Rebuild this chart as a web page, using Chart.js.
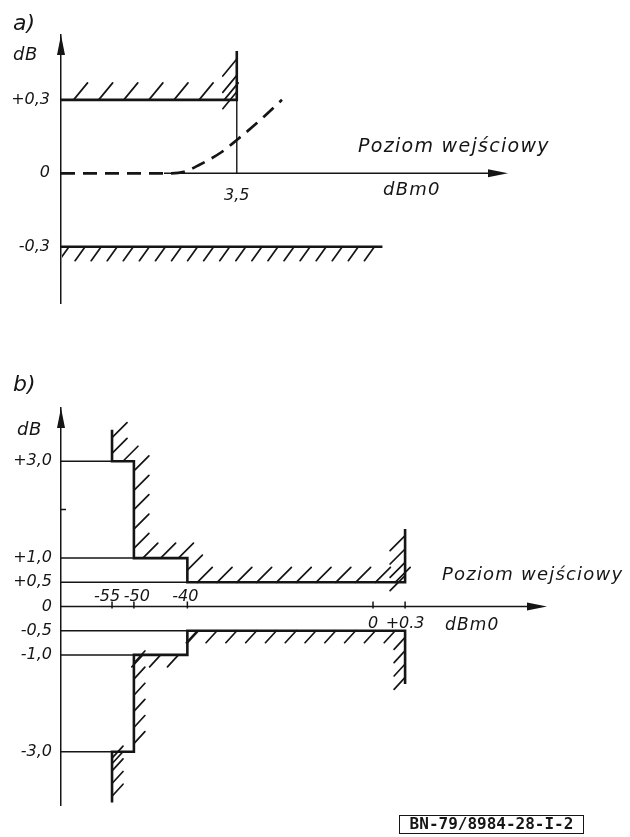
<!DOCTYPE html>
<html>
<head>
<meta charset="utf-8">
<script src="https://cdn.jsdelivr.net/npm/chart.js@4.4.1/dist/chart.umd.min.js"></script>
<style>
  html, body { margin: 0; padding: 0; background: #fff; }
  #wrap { position: relative; width: 630px; height: 837px; overflow: hidden; }
  canvas { position: absolute; left: 0; top: 0; }
  #stamp {
    position: absolute; left: 399px; top: 815px; width: 185px; height: 19px;
    box-sizing: border-box; border: 1.5px solid #151515; color: #151515;
    font: bold 16px/16px 'DejaVu Sans Mono', monospace; text-align: center; white-space: nowrap;
  }
</style>
</head>
<body>
<div id="wrap">
  <canvas id="chartA" width="630" height="837"></canvas>
  <canvas id="chartB" width="630" height="837"></canvas>
  <div id="stamp">BN-79/8984-28-I-2</div>
</div>
<script>
// ── Data: a) ─────────────────────────────────────────────
const upperMaskAx = [0, 3.5, 3.5];
const upperMaskAy = [0.3, 0.3, 0.5];
const upperGuideAx = [3.5, 3.5];
const upperGuideAy = [0, 0.3];
const lowerMaskAx = [0, 6.4];
const lowerMaskAy = [-0.3, -0.3];
const curveAx = [0, 2.2, 2.45, 2.75, 3.2, 3.5, 3.9, 4.4];
const curveAy = [0, 0, 0.006, 0.034, 0.087, 0.136, 0.205, 0.3];
const yTicksA = [-0.3, 0, 0.3];
const yLabelsA = ['-0,3', '0', '+0,3'];
const xTicksA = [3.5];
const xLabelsA = ['3,5'];

// ── Data: b) ─────────────────────────────────────────────
const upperMaskBx = [-55, -55, -50, -50, -40, -40, 0.3, 0.3];
const upperMaskBy = [3.65, 3, 3, 1, 1, 0.5, 0.5, 1.6];
const lowerMaskBx = [-55, -55, -50, -50, -40, -40, 0.3, 0.3];
const lowerMaskBy = [-4.05, -3, -3, -1, -1, -0.5, -0.5, -1.6];
const guideLevelsB = [3, 1, 0.5, -0.5, -1, -3];
const guideEndsB = [-55, -50, -40, -40, -50, -55];
const yTicksB = [-3, -1, -0.5, 0, 0.5, 1, 2, 3];
const yLabelsB = ['-3,0', '-1,0', '-0,5', '0', '+0,5', '+1,0', '', '+3,0'];
const xTicksB = [-55, -50, -40, 0, 0.3];
const xLabelsB = ['-55', '-50', '-40', '0', '+0.3'];

const INK = '#151515';
const FONT = "'DejaVu Sans', sans-serif";

function pts(xs, ys) {
  return xs.map((x, i) => ({ x: x, y: ys[i] }));
}

// the b) drawing is not to scale: a linear scale bent at a few knots
class PiecewiseScale extends Chart.LinearScale {
  static id = 'piecewise';
  static defaults = {};
  toDecimal(v) {
    const k = this.options.knots;
    if (v <= k[0][0]) return k[0][1];
    for (let i = 1; i < k.length; i++) {
      if (v <= k[i][0]) {
        const v0 = k[i - 1][0], d0 = k[i - 1][1], v1 = k[i][0], d1 = k[i][1];
        return d0 + (v - v0) / (v1 - v0) * (d1 - d0);
      }
    }
    return k[k.length - 1][1];
  }
  getPixelForValue(value) {
    if (value === null || value === undefined || isNaN(value)) return NaN;
    return this.getPixelForDecimal(this.toDecimal(value));
  }
}
Chart.register(PiecewiseScale);

// ── Plugins ──────────────────────────────────────────────

const hatchPlugin = {
  id: 'hatch',
  afterDatasetsDraw(chart) {
    const ctx = chart.ctx;
    const ca = chart.chartArea;
    chart.data.datasets.forEach((ds, di) => {
      const h = ds.hatch;
      if (!h) return;
      const p = chart.getDatasetMeta(di).data;
      ctx.save();
      ctx.beginPath();
      ctx.rect(ca.left + 1, 0, chart.width, chart.height);
      ctx.clip();
      ctx.strokeStyle = INK;
      ctx.lineWidth = h.width || 1.7;
      ctx.lineCap = 'round';
      for (let i = 0; i < p.length - 1; i++) {
        const dir = h.dirs[i];
        if (!dir) continue;
        const a = p[i], b = p[i + 1];
        const len = Math.hypot(b.x - a.x, b.y - a.y);
        const gap = Array.isArray(h.gap) ? h.gap[i] : h.gap;
        const n = Math.max(1, Math.round(len / gap));
        const sx = dir === 'ur' ? h.dx : -h.dx;
        const sy = dir === 'ur' ? -h.dy : h.dy;
        ctx.beginPath();
        for (let k = 0; k < n; k++) {
          const t = (k + 0.5) / n;
          const px = a.x + (b.x - a.x) * t;
          const py = a.y + (b.y - a.y) * t;
          ctx.moveTo(px, py);
          ctx.lineTo(px + sx, py + sy);
        }
        ctx.stroke();
      }
      ctx.restore();
    });
  }
};

function arrow(ctx, x, y, dir) {
  const L = 20, W = 4;
  ctx.beginPath();
  if (dir === 'up') {
    ctx.moveTo(x, y);
    ctx.lineTo(x - W, y + L);
    ctx.lineTo(x + W, y + L);
  } else {
    ctx.moveTo(x, y);
    ctx.lineTo(x - L, y - W);
    ctx.lineTo(x - L, y + W);
  }
  ctx.closePath();
  ctx.fill();
}

function makeAxes(cfg) {
  return {
    id: 'sketchAxes',
    afterDraw(chart) {
      const { ctx, chartArea: ca, scales } = chart;
      const x = scales.x, y = scales.y;
      const y0 = y.getPixelForValue(0);
      const xStart = cfg.xFrom !== undefined ? x.getPixelForValue(cfg.xFrom) : ca.left;
      ctx.save();
      ctx.strokeStyle = INK;
      ctx.fillStyle = INK;
      ctx.lineWidth = 1.5;
      ctx.beginPath();
      ctx.moveTo(xStart, y0);
      ctx.lineTo(ca.right - 12, y0);
      ctx.stroke();
      arrow(ctx, ca.right, y0, 'right');
      arrow(ctx, ca.left, ca.top, 'up');

      // x ticks
      ctx.font = 'italic 16px ' + FONT;
      ctx.textAlign = 'center';
      cfg.xTicks.forEach((v, i) => {
        const px = x.getPixelForValue(v);
        if (cfg.tickUp) {
          ctx.beginPath();
          ctx.moveTo(px, y0 - cfg.tickUp);
          ctx.lineTo(px, y0 + cfg.tickDown);
          ctx.stroke();
        }
        const above = v < 0;
        const shift = (cfg.labelShift && cfg.labelShift[i]) || 0;
        ctx.fillText(cfg.xLabels[i], px + shift, above ? y0 - cfg.aboveGap : y0 + cfg.belowGap);
      });

      // lettering
      ctx.textAlign = 'left';
      cfg.texts.forEach(t => {
        ctx.font = 'italic ' + t.size + 'px ' + FONT;
        ctx.letterSpacing = (t.ls || 0) + 'px';
        ctx.fillText(t.text, t.x, t.y);
      });
      ctx.restore();
    }
  };
}

function line(data, width, extra) {
  return Object.assign({
    data: data,
    borderColor: INK,
    borderWidth: width,
    pointRadius: 0,
    fill: false,
    tension: 0,
    borderCapStyle: 'butt',
    borderJoinStyle: 'miter'
  }, extra || {});
}

function yAxis(min, max, ticks, labels, extra) {
  return Object.assign({
    type: 'linear',
    min: min,
    max: max,
    afterFit: s => { s.width = 61; },
    afterBuildTicks: s => { s.ticks = ticks.map(v => ({ value: v })); },
    ticks: {
      autoSkip: false,
      color: INK,
      font: { family: FONT, style: 'italic', size: 16 },
      callback: (v, i) => labels[i]
    },
    grid: { display: false },
    border: { display: true, color: INK, width: 1.5 }
  }, extra);
}

const basePlugins = {
  legend: { display: false },
  tooltip: { enabled: false },
  colors: { enabled: false }
};

// ── Chart a) ─────────────────────────────────────────────

new Chart(document.getElementById('chartA'), {
  type: 'line',
  data: {
    datasets: [
      line(pts(upperMaskAx, upperMaskAy), 2.6,
        { hatch: { dirs: ['ur', 'dl'], gap: [24, 16], dx: 14, dy: 17 } }),
      line(pts(upperGuideAx, upperGuideAy), 1.4),
      line(pts(lowerMaskAx, lowerMaskAy), 2.6,
        { hatch: { dirs: ['dl'], gap: 16, dx: 10, dy: 14 } }),
      line(pts(curveAx, curveAy), 2.7,
        { borderDash: [14, 8], cubicInterpolationMode: 'monotone' })
    ]
  },
  options: {
    responsive: false,
    animation: false,
    events: [],
    layout: { padding: { left: 0, right: 122, top: 35, bottom: 534 } },
    plugins: basePlugins,
    scales: {
      x: { type: 'linear', min: 0, max: 8.9, display: false },
      y: yAxis(-0.53, 0.565, yTicksA, yLabelsA, {})
    }
  },
  plugins: [hatchPlugin, makeAxes({
    xFrom: 2.05,
    xTicks: xTicksA, xLabels: xLabelsA,
    belowGap: 27, aboveGap: 6,
    texts: [
      { text: 'a)', x: 13, y: 30, size: 22 },
      { text: 'dB', x: 13, y: 60, size: 18, ls: 0.5 },
      { text: 'Poziom wejściowy', x: 358, y: 152, size: 19, ls: 1.3 },
      { text: 'dBm0', x: 383, y: 195, size: 18, ls: 1.2 }
    ]
  })]
});

// ── Chart b) ─────────────────────────────────────────────

const guideSets = guideLevelsB.map((lvl, i) => line(pts([-70, guideEndsB[i]], [lvl, lvl]), 1.5));

new Chart(document.getElementById('chartB'), {
  type: 'line',
  data: {
    datasets: guideSets.concat([
      line(pts(upperMaskBx, upperMaskBy), 2.6, {
        hatch: { dirs: ['ur', 'ur', 'ur', 'ur', 'ur', 'ur', 'dl'],
                 gap: [19, 19, 19, 19, 19, 20, 15], dx: 15, dy: 15 } }),
      line(pts(lowerMaskBx, lowerMaskBy), 2.6, {
        hatch: { dirs: ['ur', 'dl', 'ur', 'dl', 'ur', 'dl', 'dl'],
                 gap: [14, 19, 17, 19, 19, 19, 14], dx: 11, dy: 12 } })
    ])
  },
  options: {
    responsive: false,
    animation: false,
    events: [],
    layout: { padding: { left: 0, right: 83, top: 408, bottom: 32 } },
    plugins: basePlugins,
    scales: {
      x: {
        type: 'piecewise', min: -70, max: 3, display: false,
        knots: [[-70, 0], [-55, 0.105], [-50, 0.150], [-40, 0.260], [0, 0.642], [0.3, 0.708], [3, 1]]
      },
      y: yAxis(-4.1, 4.1, yTicksB, yLabelsB, {
        grid: {
          display: true, drawOnChartArea: false, drawTicks: true, tickLength: -5,
          tickWidth: 1.5,
          tickColor: c => (c.tick && c.tick.value === 2 ? INK : 'rgba(0,0,0,0)')
        },
        ticks: {
          autoSkip: false, color: INK, padding: 14,
          font: { family: FONT, style: 'italic', size: 16 },
          callback: (v, i) => yLabelsB[i]
        }
      })
    }
  },
  plugins: [hatchPlugin, makeAxes({
    xTicks: xTicksB, xLabels: xLabelsB,
    labelShift: [-5, 3, -2, 0, 0],
    tickUp: 5, tickDown: 2,
    belowGap: 21, aboveGap: 6,
    texts: [
      { text: 'b)', x: 13, y: 391, size: 22 },
      { text: 'dB', x: 17, y: 435, size: 18, ls: 0.5 },
      { text: 'Poziom wejściowy', x: 442, y: 580, size: 18, ls: 1.2 },
      { text: 'dBm0', x: 445, y: 630, size: 17, ls: 1.2 }
    ]
  })]
});
</script>
</body>
</html>
